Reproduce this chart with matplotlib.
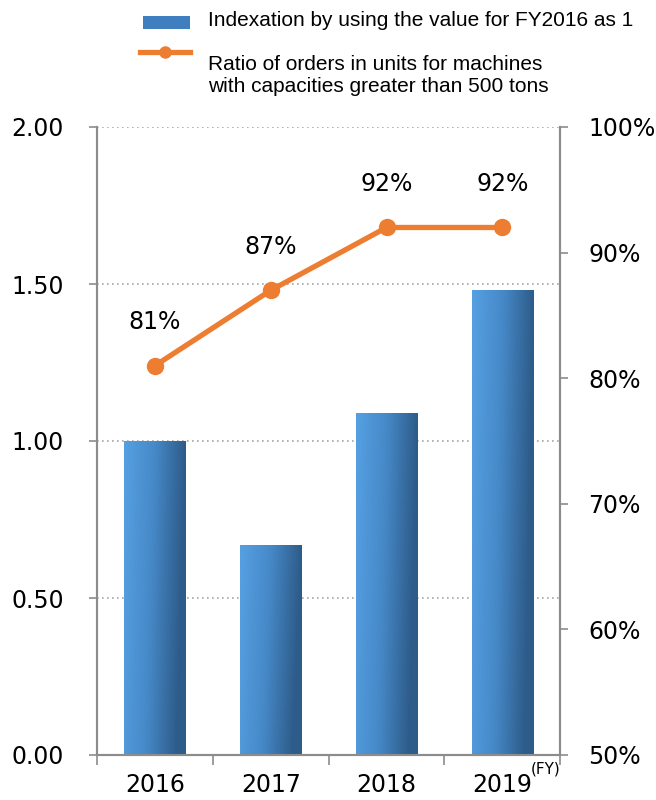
import matplotlib
matplotlib.use("Agg")
import matplotlib.pyplot as plt
import numpy as np
from matplotlib.colors import LinearSegmentedColormap
from matplotlib.patches import Rectangle
from matplotlib.lines import Line2D

years = ["2016", "2017", "2018", "2019"]
index_values = [1.00, 0.67, 1.09, 1.48]
ratio_values = [81, 87, 92, 92]
ratio_labels = ["81%", "87%", "92%", "92%"]
left_ticks = [0.0, 0.5, 1.0, 1.5, 2.0]
left_ticklabels = ["0.00", "0.50", "1.00", "1.50", "2.00"]
right_ticks = [50, 60, 70, 80, 90, 100]
right_ticklabels = ["50%", "60%", "70%", "80%", "90%", "100%"]

fig = plt.figure(figsize=(6.56, 8.0), dpi=100)
ax = fig.add_axes([0.148, 0.05625, 0.706, 0.785])
ax2 = ax.twinx()

gray = "#8c8c8c"
fs = 17
x = np.arange(len(years))
bars = ax.bar(x, index_values, width=0.53, color="none", edgecolor="none", zorder=2)
cmap = LinearSegmentedColormap.from_list("g", ["#56a0e2", "#4689c8", "#2e5c8a"])
grad = np.linspace(0, 1, 256).reshape(1, -1)
grad2 = np.linspace(0, 0.15, 64).reshape(-1, 1)
g = np.clip(grad + grad2, 0, 1)
for b in bars:
    x0, y0 = b.get_x(), b.get_y()
    w, h = b.get_width(), b.get_height()
    im = ax.imshow(g, cmap=cmap, aspect="auto", extent=[x0, x0 + w, y0, y0 + h],
                   origin="upper", zorder=2, vmin=0, vmax=1)
    im.set_clip_path(b)

ax.set_xlim(-0.5, 3.5)
ax.set_ylim(0, 2.0)
ax.set_yticks(left_ticks)
ax.set_yticklabels(left_ticklabels)
ax.yaxis.grid(True, linestyle=(0, (1, 2)), color="#a6a6a6", linewidth=1.2)
ax.set_axisbelow(True)
ax.set_xticks(x)
ax.set_xticklabels(years)
ax.set_xticks(np.arange(-0.5, 4.0, 1.0), minor=True)
ax.tick_params(axis="x", which="major", length=0, pad=13, labelsize=fs)
ax.tick_params(axis="x", which="minor", length=7, color=gray, width=1.2, direction="out")
ax.tick_params(axis="y", length=6, color=gray, width=1.2, labelsize=fs, pad=18)
for s in ["top"]:
    ax.spines[s].set_visible(False)
    ax2.spines[s].set_visible(False)
for s in ["left", "bottom", "right"]:
    ax.spines[s].set_color(gray)
    ax.spines[s].set_linewidth(1.5)
    ax2.spines[s].set_color(gray)
    ax2.spines[s].set_linewidth(1.5)

ax2.plot(x, ratio_values, color="#ed7d31", linewidth=3.8, marker="o", markersize=11.5, zorder=5)
ax2.set_ylim(50, 100)
ax2.set_yticks(right_ticks)
ax2.set_yticklabels(right_ticklabels)
ax2.tick_params(axis="y", length=6, color=gray, width=1.2, labelsize=fs, pad=14)
for xi, v, lab in zip(x, ratio_values, ratio_labels):
    ax2.annotate(lab, (xi, v), xytext=(0, 31.5), textcoords="offset points",
                 ha="center", va="center", fontsize=fs)

ax.text(3.5, -0.02, "(FY)", transform=ax.transData, ha="right", va="top", fontsize=11)

# legend
fig.patches.append(Rectangle((143 / 656, 1 - 29 / 800), 47 / 656, 13 / 800,
                             transform=fig.transFigure, facecolor="#3f7fc0", edgecolor="none"))
leg_line = Line2D([140 / 656, 165 / 656, 190 / 656], [1 - 52 / 800] * 3,
                  transform=fig.transFigure, color="#ed7d31", linewidth=3.8,
                  marker="o", markevery=[1], markersize=8)
fig.lines.append(leg_line)
fig.text(208 / 656, 1 - 20 / 800, "Indexation by using the value for FY2016 as 1",
         fontsize=15, family="Liberation Sans", va="center", ha="left")
fig.text(208 / 656, 1 - 75 / 800, "Ratio of orders in units for machines\nwith capacities greater than 500 tons",
         fontsize=15, family="Liberation Sans", va="center", ha="left", linespacing=1.2)

fig.savefig("out.png", dpi=100)
